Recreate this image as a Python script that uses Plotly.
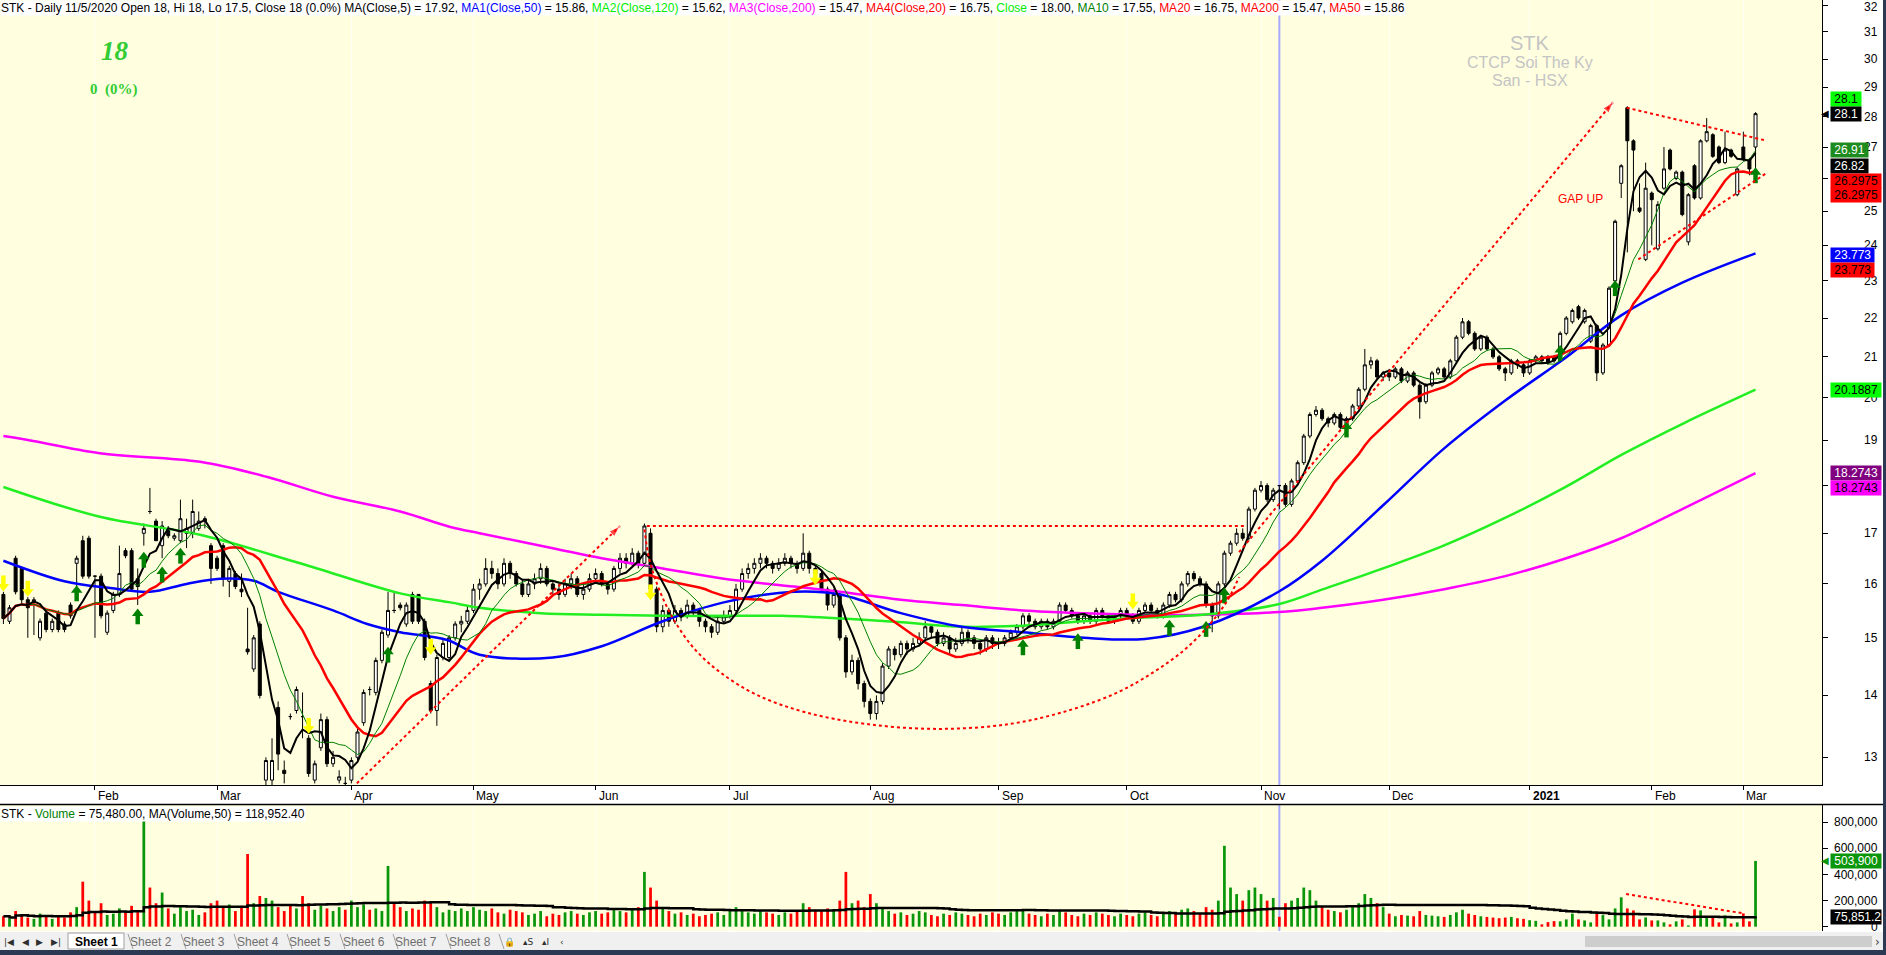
import math
import pandas as pd
import plotly.graph_objects as go

W, H = 1886, 955
BG = "#FFFFE0"
FONT = "Liberation Sans, Arial, sans-serif"

# ---------------- data (daily bars, Jan 2 2020 -> Mar 3 2021) ----------------
opens = [
    # Jan 2020
    15.8, 15.3, 16.5, 16.3, 15.7, 15.65, 15.0, 15.45, 15.15, 15.45, 15.25, 15.6, 16.4, 16.85, 16.9,
    # Feb
    16.15, 16.15, 15.1, 15.5, 15.8, 16.65, 16.65, 16.1, 17.0, 17.45, 17.25, 16.75, 17.1, 16.9, 16.85, 17.0, 17.0, 17.1, 17.3, 16.75,
    # Mar
    16.5, 16.75, 16.05, 16.2, 15.9, 14.8, 14.45, 15.25, 12.65, 12.65, 13.8, 12.8, 13.65, 13.75, 13.65, 13.3, 12.65, 13.15, 13.6, 12.9, 12.65, 12.6,
    # Apr
    12.65, 13.0, 13.55, 14.1, 14.05, 14.6, 15.05, 15.5, 15.6, 15.25, 15.8, 15.8, 15.3, 14.2, 13.75, 14.65, 14.65, 15.0, 15.25, 15.3,
    # May
    15.5, 15.9, 16.0, 16.3, 16.2, 16.0, 16.4, 16.2, 16.0, 15.8, 16.0, 16.1, 16.3, 16.0, 15.9, 15.8, 16.0, 16.1, 15.8, 15.9,
    # Jun
    16.1, 16.2, 16.0, 15.9, 16.3, 16.5, 16.4, 16.6, 16.4, 17.0, 15.9, 15.2, 15.5, 15.3, 15.5, 15.4, 15.6, 15.5, 15.3, 15.2, 15.1, 15.3,
    # Jul
    15.4, 15.5, 15.9, 16.2, 16.3, 16.4, 16.5, 16.4, 16.3, 16.4, 16.5, 16.4, 16.3, 16.6, 16.3, 16.2, 15.9, 15.6, 15.8, 15.0, 14.4, 14.6, 14.2,
    # Aug
    13.9, 13.7, 13.9, 14.5, 14.8, 14.7, 14.9, 14.8, 14.9, 15.0, 15.2, 15.1, 14.9, 15.0, 14.8, 14.9, 15.1, 15.0, 14.9, 14.8, 15.0,
    # Sep
    14.9, 14.9, 15.0, 15.1, 15.2, 15.4, 15.3, 15.2, 15.3, 15.2, 15.3, 15.6, 15.5, 15.4, 15.3, 15.4, 15.3, 15.5, 15.4, 15.3, 15.4,
    # Oct
    15.5, 15.4, 15.3, 15.5, 15.6, 15.5, 15.4, 15.6, 15.8, 15.7, 16.0, 16.2, 16.1, 16.0, 15.6, 15.4, 16.0, 16.6, 16.8, 17.0, 16.9, 17.5,
    # Nov
    17.9, 18.0, 17.7, 18.0, 18.0, 17.6, 18.1, 18.5, 19.1, 19.6, 19.7, 19.5, 19.4, 19.6, 19.3, 19.5, 19.8, 20.2, 20.8, 20.9, 20.5,
    # Dec
    20.6, 20.5, 20.7, 20.4, 20.6, 20.3, 19.9, 20.3, 20.6, 20.7, 20.5, 20.9, 21.5, 21.9, 21.6, 21.2, 21.5, 21.2, 21.0, 20.7, 20.6, 20.9, 20.8,
    # Jan 2021
    20.6, 20.9, 21.0, 21.0, 21.0, 20.9, 21.6, 21.9, 22.3, 21.9, 21.4, 21.8, 20.6, 21.3, 23.0, 25.85, 28.3, 27.2, 25.1, 23.6,
    # Feb 2021
    25.55, 23.9, 25.7, 26.9, 26.0, 26.2, 24.1, 26.4, 25.4, 27.2, 27.4, 27.0, 26.5, 26.9, 25.5,
    # Mar 2021
    27.0, 26.6, 27.0,
]
highs = [
    15.85, 15.6, 16.55, 16.3, 15.75, 15.75, 15.35, 15.5, 15.35, 15.5, 15.3, 15.65, 16.55, 16.95, 16.95,
    16.15, 16.2, 15.5, 15.85, 16.75, 16.7, 16.7, 16.3, 17.2, 17.95, 17.3, 17.25, 17.15, 17.0, 17.7, 17.3, 17.7, 17.45, 17.35, 16.8,
    16.55, 16.8, 16.35, 16.25, 16.2, 15.55, 15.05, 15.3, 13.0, 13.3, 13.9, 12.95, 13.7, 14.15, 14.05, 13.35, 12.95, 13.7, 13.65, 13.1, 12.8, 12.7,
    13.0, 13.45, 14.1, 14.15, 14.65, 15.15, 15.85, 15.85, 15.65, 15.65, 15.85, 15.8, 15.35, 14.25, 14.7, 15.0, 15.05, 15.3, 15.4, 15.6,
    16.0, 16.1, 16.5, 16.45, 16.3, 16.5, 16.45, 16.25, 16.1, 16.1, 16.2, 16.4, 16.35, 16.05, 16.0, 16.1, 16.2, 16.15, 16.0, 16.2,
    16.3, 16.25, 16.05, 16.35, 16.6, 16.6, 16.7, 16.65, 17.2, 17.1, 15.95, 15.6, 15.55, 15.6, 15.55, 15.7, 15.65, 15.55, 15.35, 15.25, 15.4, 15.5,
    15.6, 16.0, 16.3, 16.4, 16.5, 16.6, 16.55, 16.45, 16.5, 16.6, 16.55, 16.45, 17.0, 16.65, 16.35, 16.25, 15.95, 15.9, 15.85, 15.05, 14.7, 14.65, 14.25,
    13.95, 14.0, 14.55, 14.85, 14.85, 14.95, 14.95, 15.0, 15.1, 15.3, 15.25, 15.15, 15.1, 15.05, 15.0, 15.2, 15.15, 15.05, 14.95, 15.05, 15.05,
    15.0, 15.05, 15.15, 15.25, 15.45, 15.45, 15.35, 15.35, 15.35, 15.35, 15.65, 15.65, 15.55, 15.45, 15.45, 15.45, 15.55, 15.55, 15.45, 15.45, 15.55,
    15.55, 15.45, 15.55, 15.65, 15.65, 15.55, 15.65, 15.85, 15.85, 16.05, 16.25, 16.25, 16.15, 16.05, 15.65, 16.05, 16.65, 16.85, 17.1, 17.1, 17.55, 17.95,
    18.1, 18.05, 17.95, 18.0, 18.05, 18.15, 18.55, 19.15, 19.65, 19.8, 19.75, 19.55, 19.65, 19.65, 19.55, 19.85, 20.25, 21.2, 21.0, 20.95, 20.65,
    20.7, 20.75, 20.75, 20.65, 20.65, 20.35, 20.35, 20.65, 20.75, 20.75, 20.95, 21.55, 22.0, 21.95, 21.65, 21.55, 21.55, 21.25, 21.05, 20.75, 20.95, 20.95, 20.85,
    20.95, 21.05, 21.05, 21.05, 21.05, 21.65, 22.05, 22.25, 22.35, 22.25, 21.85, 21.85, 21.35, 22.85, 24.75, 26.45, 28.35, 27.25, 25.85, 26.5,
    25.6, 25.3, 27.0, 26.95, 26.25, 26.25, 25.55, 26.45, 27.25, 27.95, 27.45, 27.05, 27.5, 26.95, 26.35,
    27.5, 26.65, 28.15,
]
lows = [
    15.25, 15.25, 15.8, 15.6, 15.0, 15.05, 14.95, 15.1, 15.1, 15.1, 15.1, 15.35, 15.75, 16.1, 16.1,
    15.0, 15.35, 15.05, 15.45, 15.75, 16.5, 15.85, 15.6, 16.75, 17.4, 16.85, 16.5, 16.9, 16.85, 16.8, 16.7, 16.9, 17.05, 17.1, 16.0,
    16.25, 15.95, 15.75, 15.9, 15.75, 14.7, 14.4, 13.95, 12.55, 12.55, 12.8, 12.6, 13.6, 13.7, 13.3, 12.7, 12.6, 13.1, 12.85, 12.85, 12.6, 12.55,
    12.6, 12.95, 13.5, 14.0, 14.0, 14.55, 15.0, 15.45, 15.5, 15.2, 15.25, 15.25, 14.6, 13.7, 13.5, 14.6, 14.6, 14.95, 15.1, 15.25,
    15.45, 15.7, 15.95, 16.1, 15.9, 15.95, 16.1, 15.95, 15.75, 15.75, 15.9, 16.0, 15.95, 15.8, 15.7, 15.75, 15.9, 15.75, 15.7, 15.85,
    16.0, 15.95, 15.8, 15.85, 16.2, 16.3, 16.35, 16.3, 16.35, 15.85, 15.1, 15.1, 15.2, 15.25, 15.3, 15.35, 15.4, 15.2, 15.1, 15.0, 15.05, 15.25,
    15.35, 15.45, 15.85, 16.1, 16.2, 16.3, 16.3, 16.2, 16.25, 16.35, 16.3, 16.2, 16.25, 16.2, 16.1, 15.85, 15.5, 15.55, 14.95, 14.3, 14.35, 14.1, 13.8,
    13.6, 13.6, 13.85, 14.45, 14.6, 14.65, 14.7, 14.75, 14.85, 14.95, 15.0, 14.85, 14.85, 14.7, 14.75, 14.85, 14.9, 14.8, 14.7, 14.75, 14.8,
    14.8, 14.85, 14.95, 15.05, 15.15, 15.25, 15.15, 15.15, 15.15, 15.15, 15.25, 15.45, 15.35, 15.25, 15.25, 15.25, 15.25, 15.35, 15.25, 15.25, 15.35,
    15.35, 15.25, 15.25, 15.45, 15.45, 15.35, 15.35, 15.55, 15.65, 15.65, 15.95, 16.05, 15.95, 15.55, 15.1, 15.35, 15.95, 16.55, 16.75, 16.85, 16.85, 17.45,
    17.85, 17.65, 17.65, 17.5, 17.55, 17.55, 18.05, 18.45, 19.05, 19.55, 19.45, 19.3, 19.35, 19.25, 19.25, 19.45, 19.75, 20.15, 20.7, 20.45, 20.4,
    20.4, 20.45, 20.35, 20.35, 20.25, 19.5, 19.85, 20.25, 20.55, 20.45, 20.45, 20.85, 21.45, 21.55, 21.15, 21.15, 21.15, 20.95, 20.65, 20.4, 20.55, 20.7, 20.5,
    20.55, 20.85, 20.85, 20.8, 20.85, 20.85, 21.55, 21.85, 21.95, 21.85, 21.35, 20.4, 20.55, 21.25, 22.95, 25.4, 23.8, 25.0, 24.95, 23.55,
    24.0, 23.85, 25.65, 26.25, 25.95, 24.85, 24.0, 25.35, 25.35, 27.15, 26.65, 26.45, 26.45, 26.65, 25.45,
    26.55, 26.1, 26.3,
]
closes = [
    15.35, 15.55, 15.85, 15.7, 15.55, 15.7, 15.3, 15.15, 15.3, 15.15, 15.15, 15.4, 16.5, 16.15, 16.15,
    16.15, 15.4, 15.45, 15.8, 16.2, 16.55, 15.9, 15.95, 17.1, 17.45, 16.85, 17.15, 16.95, 16.95, 17.3, 17.1, 17.45, 17.25, 17.25, 16.3,
    16.3, 16.1, 16.3, 15.95, 15.85, 14.75, 15.0, 14.0, 12.95, 12.95, 13.05, 12.75, 13.65, 14.1, 13.65, 12.75, 12.9, 13.6, 12.9, 13.0, 12.7, 12.6,
    12.95, 13.4, 14.05, 14.1, 14.6, 15.1, 15.5, 15.5, 15.55, 15.6, 15.3, 15.3, 14.65, 13.75, 14.65, 14.9, 15.0, 15.25, 15.3, 15.5,
    15.9, 16.0, 16.3, 16.2, 16.0, 16.4, 16.2, 16.0, 15.8, 16.0, 16.1, 16.3, 16.0, 15.9, 15.8, 16.0, 16.1, 15.8, 15.9, 16.1,
    16.2, 16.0, 15.9, 16.3, 16.5, 16.4, 16.6, 16.4, 17.15, 15.9, 15.2, 15.5, 15.3, 15.5, 15.4, 15.6, 15.5, 15.3, 15.2, 15.1, 15.3, 15.4,
    15.5, 15.9, 16.2, 16.3, 16.4, 16.5, 16.4, 16.3, 16.4, 16.5, 16.4, 16.3, 16.6, 16.3, 16.2, 15.9, 15.6, 15.8, 15.0, 14.4, 14.6, 14.2, 13.9,
    13.7, 13.9, 14.5, 14.8, 14.7, 14.9, 14.8, 14.9, 15.0, 15.2, 15.1, 14.9, 15.0, 14.8, 14.9, 15.1, 15.0, 14.9, 14.8, 15.0, 14.9,
    14.9, 15.0, 15.1, 15.2, 15.4, 15.3, 15.2, 15.3, 15.2, 15.3, 15.6, 15.5, 15.4, 15.3, 15.4, 15.3, 15.5, 15.4, 15.3, 15.4, 15.5,
    15.4, 15.3, 15.5, 15.6, 15.5, 15.4, 15.6, 15.8, 15.7, 16.0, 16.2, 16.1, 16.0, 15.6, 15.4, 16.0, 16.6, 16.8, 17.0, 16.9, 17.5, 17.9,
    18.0, 17.7, 17.9, 18.0, 17.6, 18.1, 18.5, 19.1, 19.6, 19.7, 19.5, 19.4, 19.6, 19.3, 19.5, 19.8, 20.2, 20.8, 20.9, 20.5, 20.6,
    20.5, 20.7, 20.4, 20.6, 20.3, 19.9, 20.3, 20.6, 20.7, 20.5, 20.9, 21.5, 21.9, 21.6, 21.2, 21.5, 21.2, 21.0, 20.7, 20.6, 20.9, 20.8, 20.6,
    20.9, 21.0, 20.9, 20.85, 20.9, 21.6, 22.0, 22.2, 22.0, 22.2, 21.8, 20.6, 21.3, 22.8, 24.7, 26.4, 27.2, 26.9, 25.0, 25.7,
    25.35, 25.2, 26.3, 26.3, 26.2, 24.9, 25.5, 25.4, 27.2, 27.5, 26.7, 26.5, 26.9, 26.7, 26.3,
    26.6, 26.3, 28.1,
]
volume_k = [
    80, 60, 120, 90, 70, 60, 100, 80, 60, 90, 70, 110, 150, 345, 200,
    120, 180, 90, 100, 140, 110, 160, 120, 852, 300, 180, 262, 140, 100, 150, 120, 130, 90, 110, 180,
    200, 150, 170, 120, 160, 557, 180, 235, 220, 200, 150, 120, 160, 140, 235, 180, 130, 160, 140, 120, 150, 130,
    200, 150, 170, 130, 140, 120, 465, 180, 150, 120, 140, 130, 200, 180, 150, 110, 130, 120, 140, 120,
    150, 130, 120, 140, 110, 100, 130, 120, 110, 90, 100, 120, 80, 100, 90, 110, 120, 100, 90, 110,
    120, 100, 110, 130, 120, 110, 140, 150, 420, 300, 200, 150, 120, 100, 110, 90, 100, 80, 90, 100, 110, 90,
    120, 150, 130, 110, 100, 120, 110, 100, 90, 110, 100, 120, 180, 150, 130, 120, 140, 120, 200, 420, 180, 200, 150,
    250, 180, 150, 120, 100, 110, 90, 100, 120, 110, 90, 80, 100, 90, 110, 100, 90, 80, 100, 90, 110,
    100, 90, 110, 120, 130, 100, 90, 80, 100, 90, 120, 110, 90, 80, 100, 90, 110, 100, 90, 80, 100,
    90, 80, 100, 110, 90, 80, 100, 120, 110, 130, 140, 120, 100, 150, 130, 200, 620, 300, 250, 200, 280, 300,
    250, 200, 220, 75.48, 180, 200, 220, 300, 280, 200, 150, 130, 120, 110, 130, 150, 180, 250, 220, 180, 150,
    100, 80, 90, 85, 80, 120, 90, 85, 80, 75, 90, 110, 130, 100, 90, 80, 75, 70, 65, 70, 75, 65, 60,
    50, 45, 18, 35, 43, 41, 56, 100, 56, 48, 33, 102, 89, 56, 140, 225, 140, 125, 56, 71,
    48, 48, 33, 18, 41, 56, 10, 133, 125, 71, 79, 33, 87, 25, 33,
    102, 41, 503.9,
]

month_labels = ["Feb", "Mar", "Apr", "May", "Jun", "Jul", "Aug", "Sep", "Oct", "Nov", "Dec", "2021", "Feb", "Mar"]
month_start = [15, 35, 57, 77, 97, 119, 142, 163, 184, 206, 227, 250, 270, 285]
selected_bar = 209  # 11/5/2020

# long moving averages (bar index, value)
ma50_x = [0, 10, 17.5, 24, 30, 35.5, 41, 45, 54, 59.6, 65, 72.7, 78, 90, 98, 108, 118, 129.5, 137, 147, 157, 167, 177, 187, 196.5, 209, 216, 226, 236, 246, 256, 265, 275, 287]
ma50_y = [16.45, 16.05, 15.92, 15.85, 16.0, 16.1, 16.06, 15.85, 15.5, 15.25, 15.1, 14.96, 14.7, 14.65, 14.85, 15.3, 15.65, 15.85, 15.8, 15.45, 15.2, 15.1, 15.0, 14.98, 15.2, 15.86, 16.45, 17.58, 18.82, 19.93, 20.99, 22.07, 22.95, 23.77]
ma120_x = [0, 15.8, 32.2, 48.6, 65, 73.2, 78, 88, 98, 108, 118, 127.5, 137.4, 147.2, 157.1, 166.9, 176.8, 186.6, 196.5, 209, 216.2, 226, 235.9, 245.7, 255.6, 265.4, 275.3, 287]
ma120_y = [17.97, 17.34, 16.97, 16.4, 15.82, 15.65, 15.55, 15.45, 15.42, 15.4, 15.4, 15.4, 15.35, 15.28, 15.2, 15.22, 15.3, 15.37, 15.42, 15.62, 15.9, 16.3, 16.75, 17.3, 17.95, 18.7, 19.4, 20.19]
ma200_x = [0, 4, 15.8, 32.2, 43.1, 54, 65, 73.2, 78, 90, 98, 108, 118, 129.5, 137, 147, 157, 167, 177, 187, 196.5, 209, 216, 226, 236, 246, 256, 265, 275, 287]
ma200_y = [19.1, 19.01, 18.71, 18.52, 18.19, 17.76, 17.45, 17.13, 17.0, 16.7, 16.5, 16.3, 16.1, 15.95, 15.85, 15.7, 15.6, 15.5, 15.45, 15.42, 15.42, 15.47, 15.55, 15.7, 15.9, 16.15, 16.5, 16.9, 17.5, 18.27]

# buy / sell signal arrows (bar index, arrow centre price)
buy_x = [12, 22, 23, 26, 29, 63, 167, 176, 191, 197, 200, 220, 255, 264, 287]
buy_y = [15.82, 15.39, 16.47, 16.18, 16.55, 14.7, 14.83, 14.94, 15.18, 15.16, 15.78, 19.25, 21.1, 22.8, 26.1]
sell_x = [0, 4, 50, 70, 106, 133, 185]
sell_y = [16.01, 15.91, 13.5, 14.84, 15.84, 16.13, 15.67]

# hand drawn red dotted studies (bar index, price)
study_rise_x = [57.9, 101.0]
study_rise_y = [12.6, 17.15]
study_top_x = [105.4, 203.4]
study_top_y = [17.15, 17.15]
cup_x = [105.0, 105.8, 107.4, 109.8, 113.3, 117.7, 123.6, 131.4, 141.3, 153.1, 164.9, 174.8, 182.7, 188.6, 193.5, 197.4, 200.4, 202.4]
cup_y = [17.08, 16.48, 15.9, 15.33, 14.79, 14.37, 14.0, 13.72, 13.53, 13.45, 13.53, 13.76, 14.06, 14.41, 14.79, 15.22, 15.67, 16.13]
study_run_x = [202.4, 263.7]
study_run_y = [16.62, 28.5]
tri_top_x = [265.9, 288.5]
tri_top_y = [28.3, 27.22]
tri_bot_x = [267.8, 288.8]
tri_bot_y = [23.6, 26.17]
vol_study_x = [265.8, 285.0]
vol_study_k = [250, 102]

# right-hand value labels (text, value, y shift px, background, font colour)
price_tags = [
    ("28.1", 28.1, 15, "#00FF00", "black"),
    ("28.1", 28.1, 0, "black", "white"),
    ("26.91", 26.91, 0, "#1E8B1E", "white"),
    ("26.82", 26.82, -13, "black", "white"),
    ("26.2975", 26.2975, -11.5, "#FF0000", "black"),
    ("26.2975", 26.2975, -26, "#FF0000", "black"),
    ("23.773", 23.773, -1.5, "#0000FF", "white"),
    ("23.773", 23.773, -16.5, "#FF0000", "black"),
    ("20.1887", 20.1887, 0, "#00FF00", "black"),
    ("18.2743", 18.2743, 0, "#800080", "white"),
    ("18.2743", 18.2743, -15, "#FF00FF", "black"),
]
vol_ticks = [0, 200000, 400000, 600000, 800000]
vol_tick_text = ["0", "200,000", "400,000", "600,000", "800,000"]
price_ticks = list(range(13, 33))

# ---------------- derived ----------------
n = min(len(opens), len(highs), len(lows), len(closes), len(volume_k))
opens, highs, lows, closes = opens[:n], highs[:n], lows[:n], closes[:n]
volumes = [v * 1000 for v in volume_k[:n]]
idx = list(range(n))
cs = pd.Series(closes)
ma5 = cs.rolling(5, min_periods=1).mean()
ma10 = cs.rolling(10, min_periods=1).mean()
ma20 = cs.rolling(20, min_periods=1).mean()
vma50 = pd.Series(volumes).rolling(50, min_periods=1).mean()
vol_colors = ["#0A960A" if c > o else "#FF0000" for o, c in zip(opens, closes)]


def px(x):
    return x / W


def py(y):
    return 1 - y / H


SLOPE, OFF = 6.105, 3.4
X_DOMAIN = [0, 1822 / W]
X_RANGE = [-OFF / SLOPE, (1822 - OFF) / SLOPE]
PRICE_DOMAIN = [py(785), 1.0]
VOL_DOMAIN = [py(931), py(805)]
P_RANGE = [math.log10(12.576), math.log10(32.197)]
VOL_RANGE = [-(931 - 926.7) / 26.1 * 200000, (926.7 - 805) / 26.1 * 200000]
PX_PER_DECADE = 785 / (P_RANGE[1] - P_RANGE[0])


def shift_px(price, d):
    """price moved d screen pixels up on the log price axis"""
    return price * 10 ** (d / PX_PER_DECADE)


fig = go.Figure()

fig.add_trace(go.Candlestick(
    x=idx, open=opens, high=highs, low=lows, close=closes,
    increasing=dict(line=dict(color="black", width=1), fillcolor="white"),
    decreasing=dict(line=dict(color="black", width=1), fillcolor="black"),
    whiskerwidth=0, showlegend=False, hoverinfo="skip", xaxis="x", yaxis="y"))

for xs, ys, col, wd, shape in [
    (ma200_x, ma200_y, "#FF00FF", 2.5, "spline"),
    (ma120_x, ma120_y, "#22EE22", 2.5, "spline"),
    (ma50_x, ma50_y, "#0000FF", 2.5, "spline"),
    (idx, ma20, "#FF0000", 2.5, "linear"),
    (idx, ma10, "#008000", 1, "linear"),
    (idx, ma5, "black", 2, "linear"),
]:
    fig.add_trace(go.Scatter(x=xs, y=ys, mode="lines", line=dict(color=col, width=wd, shape=shape),
                             showlegend=False, hoverinfo="skip", xaxis="x", yaxis="y"))

# block arrows = head + shaft
fig.add_trace(go.Scatter(x=buy_x, y=[shift_px(p, -3) for p in buy_y], mode="markers",
                         marker=dict(symbol="line-ns", size=7, line=dict(width=4.5, color="#008000")),
                         showlegend=False, hoverinfo="skip", xaxis="x", yaxis="y"))
fig.add_trace(go.Scatter(x=buy_x, y=[shift_px(p, 3) for p in buy_y], mode="markers",
                         marker=dict(symbol="triangle-up", size=10, color="#008000", line=dict(width=0)),
                         showlegend=False, hoverinfo="skip", xaxis="x", yaxis="y"))
fig.add_trace(go.Scatter(x=sell_x, y=[shift_px(p, 3) for p in sell_y], mode="markers",
                         marker=dict(symbol="line-ns", size=7, line=dict(width=4.5, color="#FFFF00")),
                         showlegend=False, hoverinfo="skip", xaxis="x", yaxis="y"))
fig.add_trace(go.Scatter(x=sell_x, y=[shift_px(p, -3) for p in sell_y], mode="markers",
                         marker=dict(symbol="triangle-down", size=10, color="#FFFF00", line=dict(width=0)),
                         showlegend=False, hoverinfo="skip", xaxis="x", yaxis="y"))

for xs, ys, shape in [(study_rise_x, study_rise_y, "linear"), (study_top_x, study_top_y, "linear"),
                      (cup_x, cup_y, "spline"), (study_run_x, study_run_y, "linear"),
                      (tri_top_x, tri_top_y, "linear"), (tri_bot_x, tri_bot_y, "linear")]:
    fig.add_trace(go.Scatter(x=xs, y=ys, mode="lines", line=dict(color="#FF0000", width=2, dash="dot", shape=shape),
                             showlegend=False, hoverinfo="skip", xaxis="x", yaxis="y"))
for xs, ys in [(study_rise_x, study_rise_y), (study_run_x, study_run_y)]:
    fig.add_trace(go.Scatter(x=xs, y=ys, mode="markers",
                             marker=dict(symbol="arrow", size=[0, 12], angleref="previous", color="#FF0000"),
                             showlegend=False, hoverinfo="skip", xaxis="x", yaxis="y"))

fig.add_trace(go.Bar(x=idx, y=volumes, marker=dict(color=vol_colors, line=dict(width=0)), width=0.45,
                     showlegend=False, hoverinfo="skip", xaxis="x2", yaxis="y2"))
fig.add_trace(go.Scatter(x=idx, y=vma50, mode="lines", line=dict(color="black", width=2.5, shape="hv"),
                         showlegend=False, hoverinfo="skip", xaxis="x2", yaxis="y2"))
fig.add_trace(go.Scatter(x=vol_study_x, y=[v * 1000 for v in vol_study_k], mode="lines",
                         line=dict(color="#FF0000", width=2, dash="dot"),
                         showlegend=False, hoverinfo="skip", xaxis="x2", yaxis="y2"))

shapes = []
shapes.append(dict(type="line", xref="x", yref="paper", x0=selected_bar, x1=selected_bar, y0=py(785), y1=1,
                   line=dict(color="#A8A8FF", width=2), layer="below"))
shapes.append(dict(type="line", xref="x", yref="paper", x0=selected_bar, x1=selected_bar, y0=py(931), y1=py(805),
                   line=dict(color="#A8A8FF", width=2), layer="below"))
shapes.append(dict(type="line", xref="paper", yref="paper", x0=0, x1=px(1883), y0=py(804.5), y1=py(804.5),
                   line=dict(color="black", width=1.5)))
# sheet-tab strip
shapes.append(dict(type="rect", xref="paper", yref="paper", x0=0, x1=px(1883), y0=py(950), y1=py(932),
                   fillcolor="#F0F0F0", line=dict(width=0)))
shapes.append(dict(type="rect", xref="paper", yref="paper", x0=px(1585), x1=px(1872), y0=py(947), y1=py(936),
                   fillcolor="#CDCDCD", line=dict(width=0)))
shapes.append(dict(type="rect", xref="paper", yref="paper", x0=px(68), x1=px(124), y0=py(949), y1=py(933),
                   fillcolor="white", line=dict(color="#A0A0A0", width=1)))
for sx in [128, 181, 234, 287, 340, 393, 446, 499]:
    shapes.append(dict(type="line", xref="paper", yref="paper", x0=px(sx), x1=px(sx + 5), y0=py(934), y1=py(949),
                       line=dict(color="#A0A0A0", width=1)))
shapes.append(dict(type="rect", xref="paper", yref="paper", x0=0, x1=1, y0=0, y1=py(950),
                   fillcolor="#2B3A52", line=dict(width=0)))
shapes.append(dict(type="rect", xref="paper", yref="paper", x0=px(1883), x1=1, y0=0, y1=1,
                   fillcolor="#2B3A52", line=dict(width=0)))

ann = []


def note(text, x, y, size=12, color="black", family=FONT, xanchor="center", yanchor="middle", **kw):
    d = dict(text=text, xref="paper", yref="paper", x=x, y=y, xanchor=xanchor, yanchor=yanchor,
             showarrow=False, font=dict(family=family, size=size, color=color))
    d.update(kw)
    ann.append(d)


header = ("STK - Daily 11/5/2020 Open 18, Hi 18, Lo 17.5, Close 18 (0.0%) MA(Close,5) = 17.92, "
          "<span style='color:#0000FF'>MA1(Close,50)</span> = 15.86, "
          "<span style='color:#00EE00'>MA2(Close,120)</span> = 15.62, "
          "<span style='color:#FF00FF'>MA3(Close,200)</span> = 15.47, "
          "<span style='color:#FF0000'>MA4(Close,20)</span> = 16.75, "
          "<span style='color:#00EE00'>Close</span> = 18.00, "
          "<span style='color:#008000'>MA10</span> = 17.55, "
          "<span style='color:#FF0000'>MA20</span> = 16.75, "
          "<span style='color:#FF0000'>MA200</span> = 15.47, "
          "<span style='color:#FF0000'>MA50</span> = 15.86")
note(header, 0, 1, xanchor="left", yanchor="top", bgcolor="white", borderpad=0)
note("STK - <span style='color:#008000'>Volume</span> = 75,480.00, MA(Volume,50) = 118,952.40",
     0, py(806), xanchor="left", yanchor="top", bgcolor="white", borderpad=0)
note("<b><i>18</i></b>", px(115), py(51), size=27, color="#33CC33", family="Liberation Serif, Times New Roman, serif")
note("<b>0  (0%)</b>", px(114), py(89), size=15, color="#33CC33", family="Liberation Serif, Times New Roman, serif")
note("STK", px(1530), py(43), size=20, color="#C4C4C4")
note("CTCP Soi The Ky", px(1530), py(62.5), size=16, color="#C4C4C4")
note("San - HSX", px(1530), py(81), size=16, color="#C4C4C4")
note("GAP UP", px(1580.5), py(199.5), size=12, color="#FF0000")

for lab, m in zip(month_labels, month_start):
    txt = "<b>%s</b>" % lab if lab == "2021" else lab
    ann.append(dict(text=txt, xref="x", yref="paper", x=m, y=py(795.5), xanchor="left", yanchor="middle",
                    xshift=1, showarrow=False, font=dict(family=FONT, size=12, color="black")))

for v in price_ticks:
    ann.append(dict(text=str(v), xref="paper", yref="y", x=px(1880), y=math.log10(v), xanchor="right",
                    yanchor="middle", yshift=-1.5 if v == 32 else 0, showarrow=False,
                    font=dict(family=FONT, size=12, color="black")))
for v, t in zip(vol_ticks, vol_tick_text):
    ann.append(dict(text=t, xref="paper", yref="y2", x=px(1880), y=v, xanchor="right", yanchor="middle",
                    showarrow=False, font=dict(family=FONT, size=12, color="black")))

NB = "\u00a0"
for txt, val, shift, bg, fc in price_tags:
    ann.append(dict(text=NB + txt + NB, xref="paper", yref="y", x=px(1830), y=math.log10(val), yshift=shift,
                    xanchor="left", yanchor="middle", showarrow=False, bgcolor=bg, borderpad=0,
                    font=dict(family=FONT, size=12, color=fc)))
ann.append(dict(text="◀", xref="paper", yref="y", x=px(1831), y=math.log10(28.1), xanchor="right", yanchor="middle",
                showarrow=False, font=dict(family="DejaVu Sans", size=10, color="black")))
ann.append(dict(text=NB + "503,900" + NB, xref="paper", yref="y2", x=px(1830), y=503900, xanchor="left",
                yanchor="middle", showarrow=False, bgcolor="#0A960A", borderpad=0,
                font=dict(family=FONT, size=12, color="white")))
ann.append(dict(text="◀", xref="paper", yref="y2", x=px(1831), y=503900, xanchor="right", yanchor="middle",
                showarrow=False, font=dict(family="DejaVu Sans", size=10, color="#0A960A")))
ann.append(dict(text=NB + "75,851.2", xref="paper", yref="y2", x=px(1830), y=75851, xanchor="left",
                yanchor="middle", showarrow=False, bgcolor="black", borderpad=0,
                font=dict(family=FONT, size=12, color="white")))

# sheet tabs
tabs = ["Sheet 1", "Sheet 2", "Sheet 3", "Sheet 4", "Sheet 5", "Sheet 6", "Sheet 7", "Sheet 8"]
tab_x = [96, 151, 204, 258, 310, 364, 416, 470]
for t, xx in zip(tabs, tab_x):
    note("<b>%s</b>" % t if t == "Sheet 1" else t, px(xx), py(941.5), size=12,
         color="black" if t == "Sheet 1" else "#707070")
for sym, xx in [("|◀", 9), ("◀", 25), ("▶", 39), ("▶|", 56), ("▴S", 528), ("▴I", 545), ("‹", 562)]:
    note(sym, px(xx), py(941.5), size=9, color="#303030", family="DejaVu Sans")
note("🔒", px(509), py(941.5), size=9, color="#303030", family="DejaVu Sans")
note("›", px(1877), py(941.5), size=12, color="#404040", family="DejaVu Sans")

fig.update_layout(
    width=W, height=H, margin=dict(l=0, r=0, t=0, b=0, pad=0),
    paper_bgcolor="white", plot_bgcolor=BG, showlegend=False,
    xaxis=dict(domain=X_DOMAIN, range=X_RANGE, anchor="y", tickvals=month_start, ticks="outside", ticklen=4,
               tickcolor="black", showticklabels=False, showgrid=True, gridcolor="#FFFFF6", gridwidth=1,
               showline=True, linecolor="black", linewidth=1, zeroline=False, rangeslider=dict(visible=False),
               fixedrange=True),
    yaxis=dict(domain=PRICE_DOMAIN, type="log", range=P_RANGE, side="right", anchor="x", tickvals=price_ticks,
               ticks="outside", ticklen=5, tickcolor="black", showticklabels=False,
               showline=True, linecolor="black", linewidth=1, showgrid=False, zeroline=False, fixedrange=True),
    xaxis2=dict(domain=X_DOMAIN, range=X_RANGE, anchor="y2", matches="x", tickvals=month_start, ticks="",
                showticklabels=False, showgrid=True, gridcolor="#FFFFF6", showline=False, zeroline=False,
                fixedrange=True),
    yaxis2=dict(domain=VOL_DOMAIN, range=VOL_RANGE, side="right", anchor="x2", tickvals=vol_ticks, ticks="outside",
                ticklen=5, tickcolor="black", showticklabels=False, showline=True, linecolor="black", linewidth=1,
                showgrid=False, zeroline=False, fixedrange=True),
    shapes=shapes, annotations=ann,
)

fig.write_html("out.html", config={"displayModeBar": False, "staticPlot": True},
               post_script="document.body.style.margin='0px';document.body.style.padding='0px';"
                           "document.body.style.overflow='hidden';")
